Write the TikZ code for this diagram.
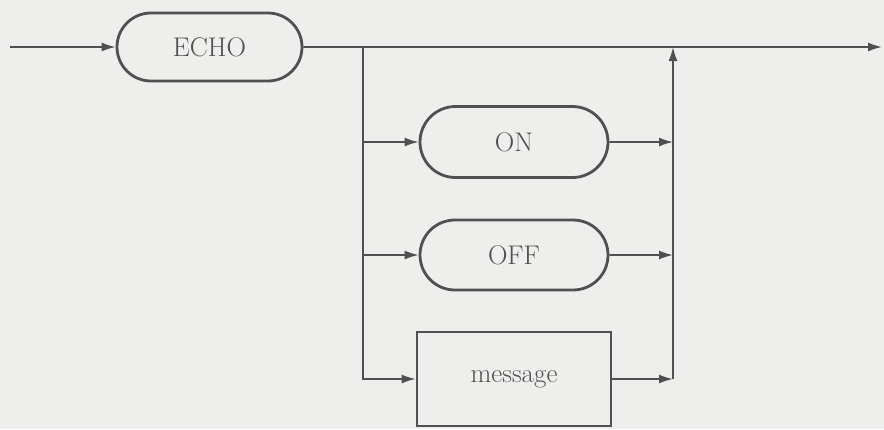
\documentclass[tikz,border=0pt]{standalone}
\usetikzlibrary{arrows.meta,shapes.misc}
\definecolor{paper}{HTML}{EEEEEC}
\definecolor{ink}{HTML}{505050}
\begin{document}
\begin{tikzpicture}[x=1pt,y=-1pt,
  term/.style={rounded rectangle, draw=ink, line width=2.8pt, text=ink, font=\fontsize{27}{30}\selectfont, inner sep=0pt},
  nonterm/.style={rectangle, draw=ink, line width=2.8pt, text=ink, font=\fontsize{27}{30}\selectfont, inner sep=0pt},
  conn/.style={draw=ink, line width=1.6pt},
  arr/.style={conn, -{Latex[length=14pt,width=9pt]}}]
\useasboundingbox (0,0) rectangle (884,429);
\fill[paper] (0,0) rectangle (884,429);
\node[term, minimum width=185pt, minimum height=68pt] (echo) at (209.5,47) {ECHO};
\node[term, minimum width=188pt, minimum height=71pt] (on) at (514,142) {ON};
\node[term, minimum width=188pt, minimum height=70pt] (off) at (514,255) {OFF};
\node[nonterm, minimum width=194pt, minimum height=94pt] (msg) at (514,379) {message};
\coordinate (start) at (10,47);
\coordinate (end) at (882,47);
\coordinate (split) at (363,47);
\coordinate (join) at (673,379);
\coordinate (merge) at (673,47);
\draw[arr] (start) -- (echo);
\draw[arr] (echo) -- (end);
\draw[arr] (split) |- (msg.west);
\draw[arr] (split |- on.west) -- (on);
\draw[arr] (split |- off.west) -- (off);
\draw[arr] (on) -- (join |- on.east);
\draw[arr] (off) -- (join |- off.east);
\draw[arr] (msg) -- (join);
\draw[arr] (join) -- (merge);
\end{tikzpicture}
\end{document}
